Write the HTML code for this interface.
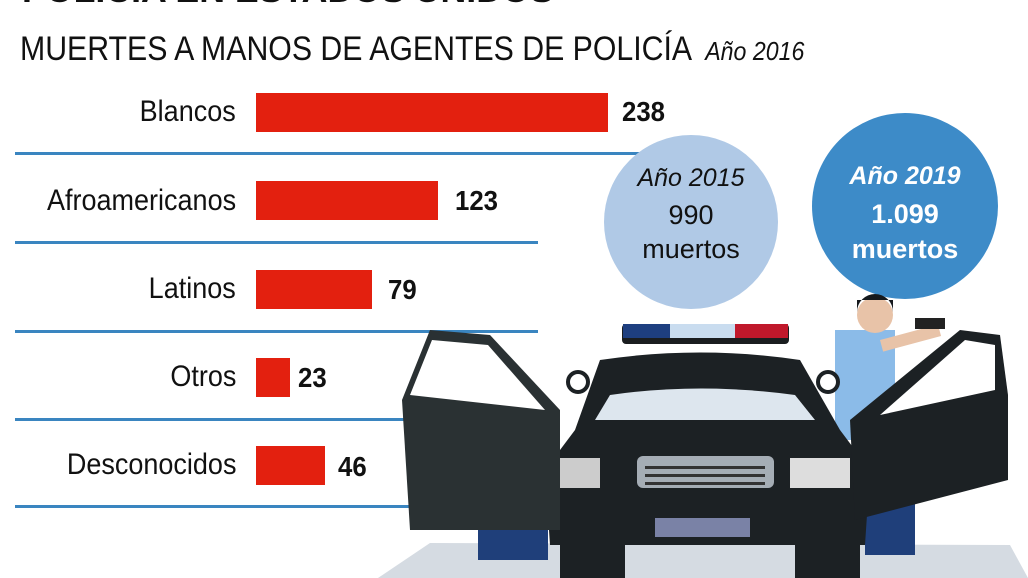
<!DOCTYPE html>
<html><head><meta charset="utf-8"><style>
body{margin:0;width:1028px;height:578px;overflow:hidden;background:#fff;font-family:"Liberation Sans",sans-serif;position:relative}
.t{position:absolute;white-space:nowrap;transform-origin:0 0}
.lab{position:absolute;right:792px;font-size:30px;color:#111;transform:scaleX(.9);transform-origin:100% 50%}
.bar{position:absolute;left:256px;height:39px;background:#e3200f}
.val{position:absolute;font-size:28px;font-weight:bold;color:#111;transform:scaleX(.92);transform-origin:0 50%}
.ln{position:absolute;left:15px;height:3px;background:#3a85c0}
</style></head><body>
<div class="t" style="left:22px;top:-28px;font-size:34px;font-weight:bold;color:#111;transform:scaleX(1.05)">POLICÍA EN ESTADOS UNIDOS</div>
<div class="t" style="left:20px;top:30px;font-size:34px;color:#111;transform:scaleX(.89)">MUERTES A MANOS DE AGENTES DE POLICÍA <i style="font-size:26px">&nbsp;Año 2016</i></div>

<div class="lab" style="top:95px">Blancos</div>
<div class="bar" style="top:93px;width:352px"></div><div class="val" style="left:622px;top:96px">238</div>
<div class="ln" style="top:152px;width:625px"></div>
<div class="lab" style="top:184px">Afroamericanos</div>
<div class="bar" style="top:181px;width:182px"></div><div class="val" style="left:455px;top:185px">123</div>
<div class="ln" style="top:241px;width:523px"></div>
<div class="lab" style="top:272px">Latinos</div>
<div class="bar" style="top:270px;width:116px"></div><div class="val" style="left:388px;top:274px">79</div>
<div class="ln" style="top:330px;width:523px"></div>
<div class="lab" style="top:360px">Otros</div>
<div class="bar" style="top:358px;width:34px"></div><div class="val" style="left:298px;top:362px">23</div>
<div class="ln" style="top:418px;width:400px"></div>
<div class="lab" style="top:448px">Desconocidos</div>
<div class="bar" style="top:446px;width:69px"></div><div class="val" style="left:338px;top:451px">46</div>
<div class="ln" style="top:505px;width:400px"></div>

<svg style="position:absolute;left:0;top:0" width="1028" height="578">
<circle cx="691" cy="222" r="87" fill="#b0c9e6"/>
<circle cx="905" cy="206" r="93" fill="#3d8bc8"/>
<text x="691" y="186" font-size="25" font-style="italic" text-anchor="middle" fill="#111" font-family="Liberation Sans">Año 2015</text>
<text x="691" y="224" font-size="27" text-anchor="middle" fill="#111" font-family="Liberation Sans">990</text>
<text x="691" y="258" font-size="27" text-anchor="middle" fill="#111" font-family="Liberation Sans">muertos</text>
<text x="905" y="184" font-size="25" font-style="italic" font-weight="bold" text-anchor="middle" fill="#fff" font-family="Liberation Sans">Año 2019</text>
<text x="905" y="223" font-size="27" font-weight="bold" text-anchor="middle" fill="#fff" font-family="Liberation Sans">1.099</text>
<text x="905" y="258" font-size="27" font-weight="bold" text-anchor="middle" fill="#fff" font-family="Liberation Sans">muertos</text>
<polygon points="378,578 430,543 1010,545 1028,578" fill="#d5dbe2"/>
<rect x="475" y="400" width="75" height="40" fill="#7fb0e0"/>
<circle cx="508" cy="385" r="17" fill="#e8c3a8"/><path d="M491,383 a17,17 0 0 1 34,-4 l-2,-8 -30,0z" fill="#7a3a22"/>
<rect x="478" y="520" width="70" height="40" fill="#1f3f7a"/>
<rect x="835" y="330" width="60" height="110" fill="#8bbbe8"/>
<circle cx="875" cy="315" r="18" fill="#e8c3a8"/><path d="M857,312 a18,18 0 0 1 36,0 l0,-12 -36,0z" fill="#15191d"/>
<rect x="880" y="340" width="60" height="12" fill="#e8c3a8" transform="rotate(-15 880 340)"/>
<rect x="915" y="318" width="30" height="11" fill="#222"/>
<rect x="865" y="500" width="50" height="55" fill="#1f3f7a"/>
<rect x="622" y="324" width="167" height="20" rx="4" fill="#1a1d1f"/>
<rect x="623" y="324" width="47" height="14" fill="#1e3f80"/><rect x="670" y="324" width="65" height="14" fill="#c9dcef"/><rect x="735" y="324" width="53" height="14" fill="#c0182b"/>
<path d="M600,360 Q700,345 800,360 L840,430 L870,470 L865,545 L550,545 L545,470 L575,430Z" fill="#1c2124"/>
<path d="M610,395 Q700,382 795,395 L815,420 L595,420Z" fill="#dde6ee"/>
<rect x="560" y="545" width="65" height="33" fill="#1c2124"/><rect x="795" y="545" width="65" height="33" fill="#1c2124"/>
<path d="M555,458 L600,458 L600,488 L555,488Z" fill="#ccc"/><path d="M790,458 L850,458 L850,488 L790,488Z" fill="#ddd"/>
<rect x="637" y="456" width="137" height="32" rx="6" fill="#a5adb5"/>
<rect x="645" y="466" width="120" height="3" fill="#333"/><rect x="645" y="474" width="120" height="3" fill="#333"/><rect x="645" y="482" width="120" height="3" fill="#333"/>
<rect x="655" y="518" width="95" height="19" fill="#7a82a6"/>
<path d="M402,400 L430,330 L490,335 L560,410 L560,530 L410,530Z" fill="#2a3133"/>
<path d="M432,340 L488,345 L545,410 L410,395Z" fill="#fff"/>
<path d="M1008,395 L1000,335 L960,330 L850,420 L855,520 L1008,480Z" fill="#1c2124"/>
<path d="M995,345 L965,340 L880,415 L995,390Z" fill="#fff"/>
<circle cx="578" cy="382" r="10" fill="#fff" stroke="#1c2124" stroke-width="4"/>
<circle cx="828" cy="382" r="10" fill="#fff" stroke="#1c2124" stroke-width="4"/>
</svg>
</body></html>
